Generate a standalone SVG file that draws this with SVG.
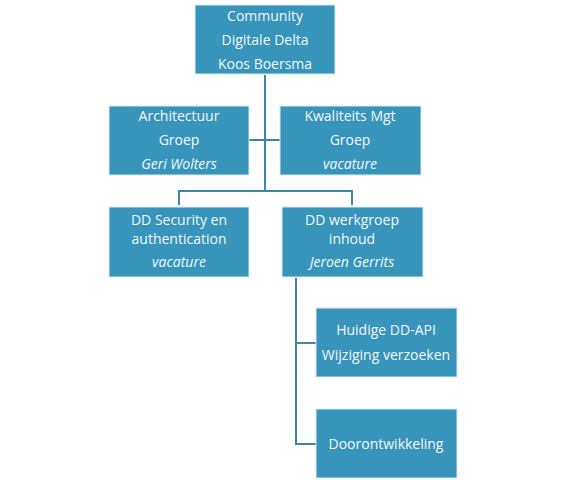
<svg xmlns="http://www.w3.org/2000/svg" width="565" height="480" viewBox="0 0 565 480">
<style>
.box{fill:#3794BA;stroke:#DCEBF2;stroke-width:1}
.t{font-family:"Open Sans","Noto Sans",sans-serif;font-size:14px;fill:#F3F7FA;text-anchor:middle}
.i{font-style:italic}
.c{fill:none;stroke:#3F86A6;stroke-width:2}
</style>
<rect width="565" height="480" fill="#fff"/>
<g id="connectors">
<path class="c" d="M265,75 V191 M249,140 H280 M179,205 V191 H352 V205"/>
<path class="c" d="M296,278 V444 H316 M296,343 H316"/>
</g>
<g id="community">
<rect class="box" x="195" y="5" width="140" height="69"/>
<text class="t" x="265" y="21">Community</text>
<text class="t" x="265" y="45">Digitale Delta</text>
<text class="t" x="265" y="69">Koos Boersma</text>
</g>
<g id="architectuur">
<rect class="box" x="109" y="106" width="140" height="69"/>
<text class="t" x="179" y="121">Architectuur</text>
<text class="t" x="179" y="145">Groep</text>
<text class="t i" x="179" y="169">Geri Wolters</text>
</g>
<g id="kwaliteits">
<rect class="box" x="280" y="106" width="141" height="69"/>
<text class="t" x="350" y="121">Kwaliteits Mgt</text>
<text class="t" x="350" y="145">Groep</text>
<text class="t i" x="350" y="169">vacature</text>
</g>
<g id="security">
<rect class="box" x="109" y="207" width="140" height="70"/>
<text class="t" x="179" y="224.5">DD Security en</text>
<text class="t" x="179" y="243.5">authentication</text>
<text class="t i" x="179" y="267">vacature</text>
</g>
<g id="werkgroep">
<rect class="box" x="282" y="207" width="141" height="70"/>
<text class="t" x="352" y="224.5">DD werkgroep</text>
<text class="t" x="352" y="243.5">inhoud</text>
<text class="t i" x="352" y="267">Jeroen Gerrits</text>
</g>
<g id="huidige">
<rect class="box" x="316" y="308" width="141" height="69"/>
<text class="t" x="386" y="335">Huidige DD-API</text>
<text class="t" x="386" y="360">Wijziging verzoeken</text>
</g>
<g id="doorontwikkeling">
<rect class="box" x="316" y="409" width="141" height="69"/>
<text class="t" x="386" y="449">Doorontwikkeling</text>
</g>
</svg>
